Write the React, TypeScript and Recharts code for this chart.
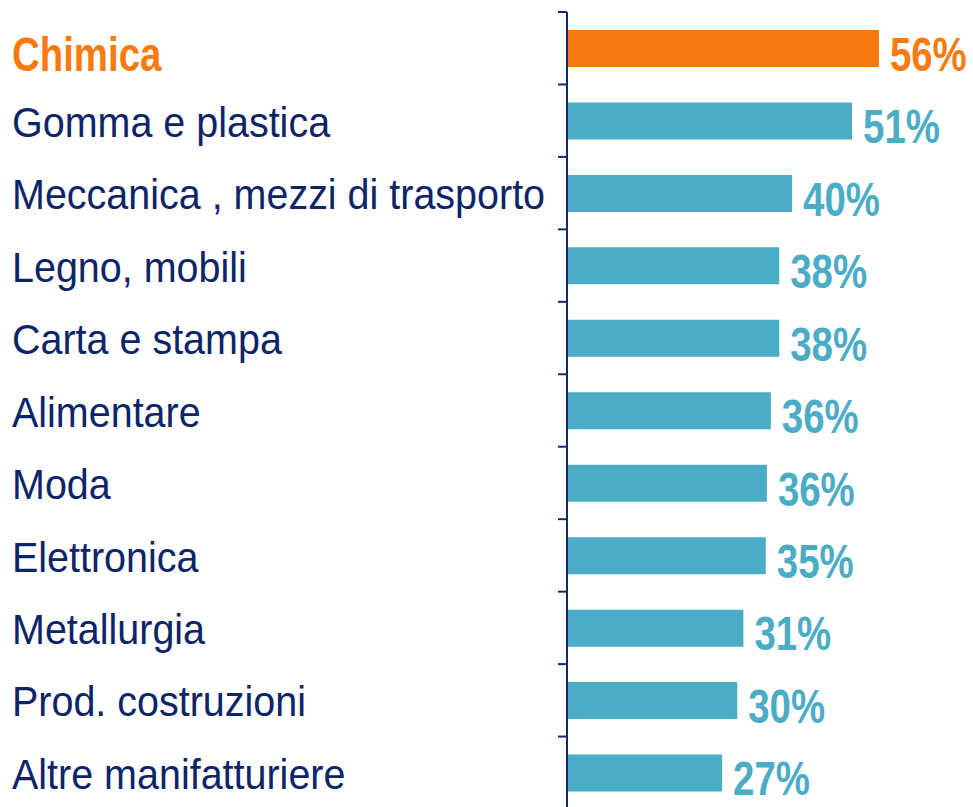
import { Bar, BarChart, Cell, LabelList, XAxis, YAxis } from "recharts";

const categories = [
  "Chimica",
  "Gomma e plastica",
  "Meccanica , mezzi di trasporto",
  "Legno, mobili",
  "Carta e stampa",
  "Alimentare",
  "Moda",
  "Elettronica",
  "Metallurgia",
  "Prod. costruzioni",
  "Altre manifatturiere",
];
const values = [55.7, 50.9, 40.2, 37.9, 37.9, 36.4, 35.7, 35.5, 31.5, 30.4, 27.7];
const valueLabels = ["56%", "51%", "40%", "38%", "38%", "36%", "36%", "35%", "31%", "30%", "27%"];
const boundaryTicks = [0, 1, 2, 3, 4, 5, 6, 7, 8, 9, 10, 11];

const ORANGE = "#fb7a0f";
const TEAL = "#4bacc6";
const NAVY = "#0c2468";
const AXIS = "#14296b";

const data = categories.map((name, i) => ({
  name,
  value: values[i],
  label: valueLabels[i],
  slot: i,
}));

function CategoryTick(props: any) {
  const { y, payload, index } = props;
  // the highlighted sector uses the same bold condensed style as the values
  const first = index === 0;
  return (
    <text
      transform={
        first
          ? `translate(12 ${y + 5}) scale(0.8 1)`
          : `translate(12 ${y + 1}) scale(0.94 1)`
      }
      x={0}
      y={0}
      dy="0.36em"
      textAnchor="start"
      fontFamily="'Liberation Sans', Arial, sans-serif"
      fontSize={first ? 48 : 42}
      fontWeight={first ? 700 : 400}
      fill={first ? ORANGE : NAVY}
    >
      {payload.value}
    </text>
  );
}

function EmptyTick() {
  return <g />;
}

function ValueLabel(props: any) {
  const { x, y, width, height, value, index } = props;
  return (
    <text
      transform={`translate(${x + width + 11} ${y + height / 2 + 5}) scale(0.8 1)`}
      x={0}
      y={0}
      dy="0.36em"
      textAnchor="start"
      fontFamily="'Liberation Sans', Arial, sans-serif"
      fontSize={48}
      fontWeight={700}
      fill={index === 0 ? ORANGE : TEAL}
    >
      {value}
    </text>
  );
}

export default function App() {
  return (
    <div style={{ position: "absolute", left: 0, top: 0, background: "#fff" }}>
      <BarChart
        width={973}
        height={812}
        data={data}
        layout="vertical"
        margin={{ top: 12, right: 14, bottom: 3, left: 0 }}
        barSize={37}
      >
        <XAxis type="number" domain={[0, 70]} hide />
        <YAxis
          yAxisId="a"
          type="number"
          dataKey="slot"
          domain={[0, 11]}
          ticks={boundaryTicks}
          reversed
          allowDataOverflow
          interval={0}
          width={1}
          tick={<EmptyTick />}
          tickSize={9}
          axisLine={{ stroke: AXIS, strokeWidth: 2 }}
          tickLine={{ stroke: AXIS, strokeWidth: 2 }}
        />
        <YAxis
          yAxisId="b"
          type="category"
          dataKey="name"
          width={566}
          axisLine={false}
          tickLine={false}
          tick={<CategoryTick />}
          interval={0}
        />
        <Bar yAxisId="b" dataKey="value" isAnimationActive={false}>
          {data.map((d, i) => (
            <Cell key={d.name} fill={i === 0 ? ORANGE : TEAL} />
          ))}
          <LabelList dataKey="label" content={<ValueLabel />} />
        </Bar>
      </BarChart>
    </div>
  );
}
